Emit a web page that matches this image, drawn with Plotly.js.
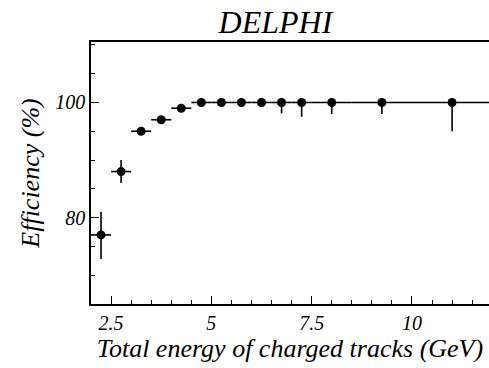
<!DOCTYPE html>
<html>
<head>
<meta charset="utf-8">
<script src="https://cdn.plot.ly/plotly-3.0.1.min.js"></script>
<style>
html,body{margin:0;padding:0;background:#fff;}
#chart{width:489px;height:368px;}
#chart svg text{font-family:'Times New Roman','Liberation Serif',serif !important;}
</style>
</head>
<body>
<div id="chart"></div>
<script>
// Data
const energy      = [2.25, 2.75, 3.25, 3.75, 4.25, 4.75, 5.25, 5.75, 6.25, 6.75, 7.25, 8.0, 9.25, 11.0];
const binHalfWidth= [0.25, 0.25, 0.25, 0.25, 0.25, 0.25, 0.25, 0.25, 0.25, 0.25, 0.25, 0.5, 0.75, 1.0];
const efficiency  = [77, 88, 95, 97, 99, 100, 100, 100, 100, 100, 100, 100, 100, 100];
const errUp       = [4, 2, 0.6, 0.5, 0.3, 0, 0, 0, 0, 0, 0, 0, 0, 0];
const errDown     = [4.2, 2, 0.6, 0.5, 0.3, 0.3, 0.3, 0.3, 0.7, 1.9, 2.5, 2.0, 2.0, 5.0];
const xTickVals   = [2.5, 5, 7.5, 10];
const xTickText   = ['2.5', '5', '7.5', '10'];
const yTickVals   = [80, 100];
const yTickText   = ['80', '100'];

const serifFamily = 'Times New Roman, Liberation Serif, serif';

const trace = {
  x: energy, y: efficiency, type: 'scatter', mode: 'markers',
  marker: {color: '#000', size: 9},
  error_y: {type: 'data', symmetric: false, array: errUp, arrayminus: errDown, color: '#000', thickness: 1.6, width: 0},
  error_x: {type: 'data', array: binHalfWidth, color: '#000', thickness: 1.6, width: 0},
  hoverinfo: 'none'
};

const layout = {
  width: 489, height: 368,
  margin: {l: 91, r: 0, t: 42, b: 64},
  paper_bgcolor: '#fff', plot_bgcolor: '#fff',
  showlegend: false,
  font: {family: serifFamily},
  title: {text: '<i>DELPHI</i>', font: {family: serifFamily, size: 32, color: '#000'},
          xref: 'container', x: 0.5634, xanchor: 'center', yref: 'container', y: 0.94, yanchor: 'middle'},
  xaxis: {
    range: [2.0, 11.92], showgrid: false, zeroline: false,
    showline: true, linecolor: '#000', linewidth: 1.5, mirror: true,
    ticks: 'inside', ticklen: 8, tickwidth: 1.2, tickcolor: '#000',
    tickvals: xTickVals, ticktext: xTickText.map(t => '<i>' + t + '</i>'),
    minor: {dtick: 0.5, tick0: 0, ticks: 'inside', ticklen: 4, tickwidth: 1, tickcolor: '#000'},
    tickfont: {family: serifFamily, size: 20, color: '#000'},
    title: {text: '<i>Total energy of charged tracks (GeV)</i>', standoff: 6,
            font: {family: serifFamily, size: 26, color: '#000'}},
    automargin: false
  },
  yaxis: {
    range: [65, 110.5], showgrid: false, zeroline: false,
    showline: true, linecolor: '#000', linewidth: 1.5, mirror: false,
    ticks: 'inside', ticklen: 8, tickwidth: 1.2, tickcolor: '#000',
    tickvals: yTickVals, ticktext: yTickText.map(t => '<i>' + t + '</i>'),
    minor: {dtick: 5, tick0: 0, ticks: 'inside', ticklen: 4, tickwidth: 1, tickcolor: '#000'},
    tickfont: {family: serifFamily, size: 20, color: '#000'},
    title: {text: '<i>Efficiency (%)</i>', standoff: 8,
            font: {family: serifFamily, size: 26, color: '#000'}},
    automargin: false
  }
};

function fixFonts() {
  document.querySelectorAll('#chart svg text, #chart svg tspan').forEach(function (el) {
    el.style.setProperty('font-family', "'Times New Roman','Liberation Serif',serif", 'important');
    el.setAttribute('font-family', 'Liberation Serif');
  });
}

Plotly.newPlot('chart', [trace], layout, {displayModeBar: false}).then(fixFonts);
</script>
</body>
</html>
